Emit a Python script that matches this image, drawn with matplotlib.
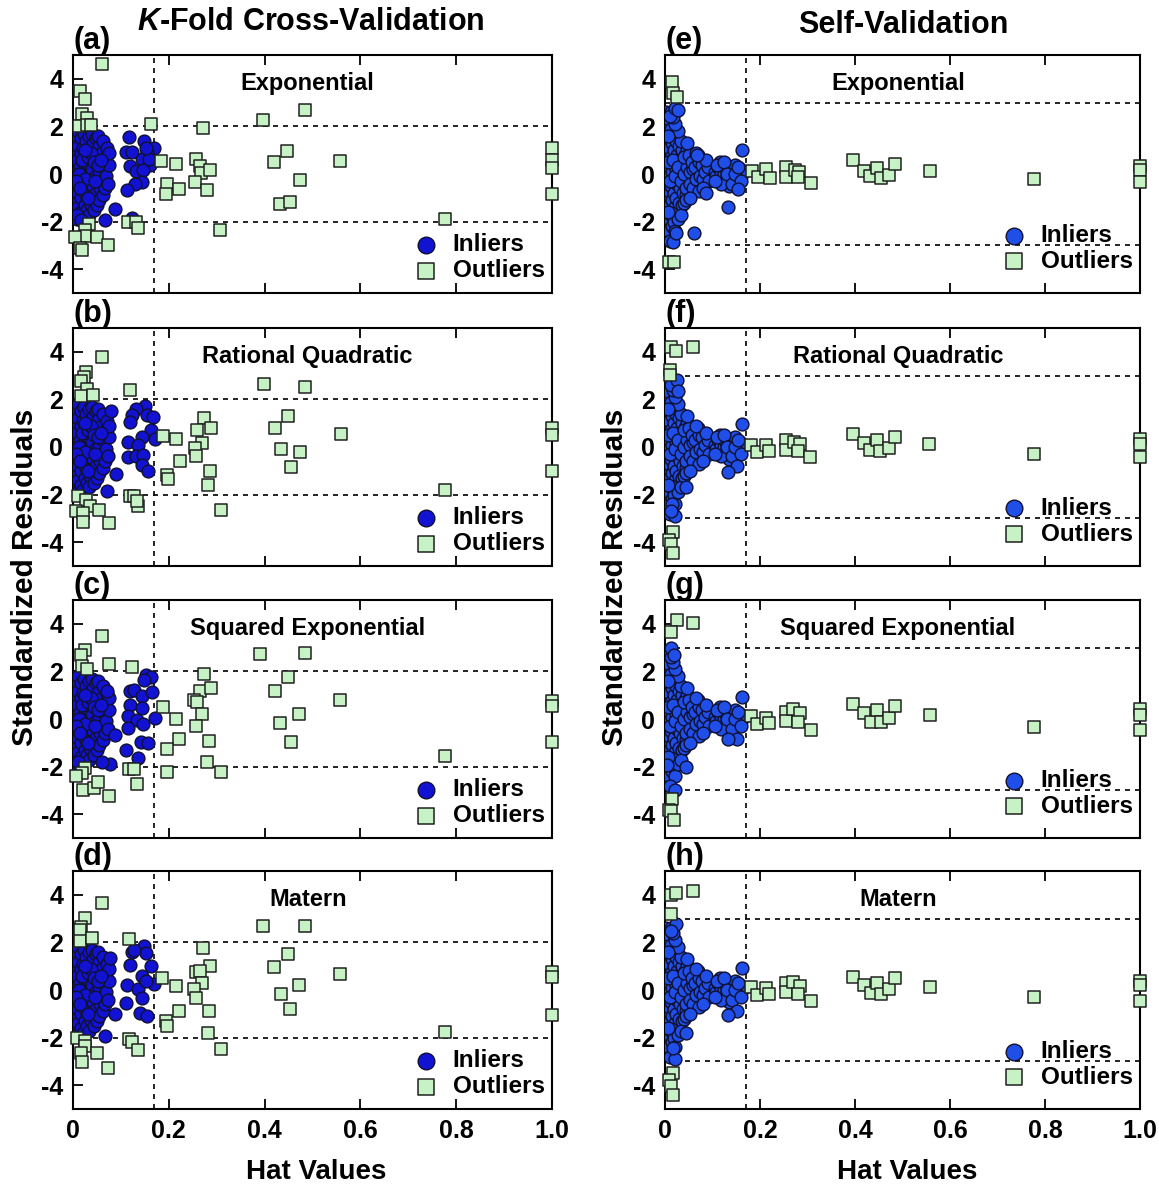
import matplotlib.pyplot as plt

# hat value / standardized residual pairs
# dense left cluster, shared look in the K-fold panels
KFOLD_CORE = [(0.004, 1.6), (0.006, 0.9), (0.005, 0.2), (0.004, -0.5), (0.006, -1.2), (0.005, -1.7),
              (0.010, 1.8), (0.011, 1.2), (0.009, 0.6), (0.012, -0.1), (0.010, -0.8), (0.011, -1.4), (0.009, -1.9),
              (0.016, 1.5), (0.017, 0.9), (0.015, 0.3), (0.018, -0.3), (0.016, -1.0), (0.017, -1.6),
              (0.022, 1.7), (0.021, 1.1), (0.023, 0.5), (0.020, -0.1), (0.022, -0.6), (0.024, -1.3), (0.021, -1.8),
              (0.028, 1.4), (0.027, 0.8), (0.029, 0.1), (0.030, -0.4), (0.027, -0.9), (0.029, -1.5),
              (0.034, 1.6), (0.035, 1.0), (0.033, 0.4), (0.036, -0.2), (0.034, -0.7), (0.036, -1.2), (0.033, -1.7),
              (0.041, 1.3), (0.040, 0.2), (0.042, -0.5), (0.041, -1.0), (0.043, -1.5), (0.039, 1.7),
              (0.047, 1.5), (0.048, 0.6), (0.049, -0.1), (0.047, -0.8), (0.050, -1.3),
              (0.055, 1.2), (0.054, 0.0), (0.056, -0.6), (0.055, -1.1), (0.053, 1.6),
              (0.061, 0.9), (0.062, 0.3), (0.060, -0.3), (0.063, -0.9), (0.062, 1.4),
              (0.068, 0.7), (0.069, -0.1), (0.067, -0.6), (0.070, 1.1),
              (0.075, 0.4), (0.074, -0.4), (0.076, 0.9),
              (0.013, 0.0), (0.019, 0.6), (0.025, -0.2), (0.031, 0.7), (0.038, 0.9), (0.044, 0.5),
              (0.052, 0.4), (0.058, 0.6), (0.007, -0.3), (0.014, -0.6), (0.026, 1.0), (0.032, -1.0), (0.045, -0.3)]

SELF_CORE = [(0.003, 2.6), (0.004, 2.0), (0.003, 1.4), (0.005, 0.8), (0.004, 0.2), (0.003, -0.4), (0.005, -1.0),
             (0.004, -1.6), (0.003, -2.2), (0.005, -2.7),
             (0.008, 2.3), (0.009, 1.7), (0.008, 1.1), (0.010, 0.5), (0.009, -0.1), (0.008, -0.7), (0.010, -1.3),
             (0.009, -1.9), (0.008, -2.4),
             (0.013, 1.9), (0.014, 1.3), (0.012, 0.7), (0.015, 0.1), (0.013, -0.5), (0.014, -1.1), (0.012, -1.7),
             (0.015, -2.2),
             (0.018, 1.6), (0.019, 1.0), (0.020, 0.4), (0.018, -0.2), (0.019, -0.8), (0.021, -1.4), (0.018, -2.0),
             (0.024, 1.4), (0.025, 0.8), (0.023, 0.2), (0.026, -0.4), (0.024, -1.0), (0.025, -1.6),
             (0.030, 1.2), (0.031, 0.6), (0.029, 0.0), (0.032, -0.6), (0.030, -1.2),
             (0.036, 1.0), (0.037, 0.4), (0.035, -0.2), (0.038, -0.8), (0.036, -1.3),
             (0.042, 0.8), (0.043, 0.2), (0.041, -0.4), (0.044, -0.9),
             (0.048, 0.6), (0.049, 0.0), (0.050, -0.6), (0.047, 1.0),
             (0.055, 0.4), (0.056, -0.2), (0.054, -0.8),
             (0.061, 0.6), (0.062, 0.0), (0.063, -0.5),
             (0.068, 0.3), (0.069, -0.3), (0.070, 0.8),
             (0.075, 0.1), (0.076, -0.5), (0.082, 0.2), (0.083, -0.3), (0.088, -0.1),
             (0.006, 0.5), (0.011, -0.3), (0.016, 0.6), (0.022, -0.1), (0.027, 0.3), (0.033, -0.3),
             (0.040, 0.0), (0.046, 0.3), (0.052, 0.1), (0.058, 0.2),
             (0.040, 0.7), (0.044, -0.6), (0.051, 0.8), (0.053, -0.4), (0.057, 0.5), (0.059, -0.6),
             (0.064, 0.3), (0.066, -0.2), (0.071, 0.5), (0.073, -0.1), (0.078, 0.4), (0.080, -0.2),
             (0.085, 0.1), (0.090, 0.3), (0.092, -0.3), (0.065, 0.9), (0.072, -0.7), (0.079, -0.6),
             (0.086, 0.6), (0.034, 1.4), (0.028, 1.8), (0.022, 2.1), (0.016, 2.4), (0.020, -2.4),
             (0.027, -1.9), (0.033, -1.7), (0.039, -1.2), (0.045, -1.1), (0.006, 1.6), (0.007, -1.6),
             (0.012, 2.6), (0.011, -2.8), (0.046, 1.3), (0.052, -1.0)]

SELF_MID = [(0.105, 0.1), (0.108, -0.1), (0.112, 0.3), (0.115, -0.2), (0.118, 0.1), (0.120, 0.4), (0.122, -0.3),
            (0.125, 0.0), (0.128, 0.2), (0.130, -0.1), (0.133, -0.3), (0.136, 0.3), (0.139, 0.0), (0.142, 0.2),
            (0.145, -0.2), (0.148, 0.4), (0.151, 0.1), (0.155, -0.1), (0.158, 0.2), (0.163, 0.0),
            (0.115, 0.5), (0.135, -0.5), (0.110, 0.4), (0.117, -0.4), (0.124, 0.5), (0.131, 0.0),
            (0.140, -0.4), (0.147, 0.0), (0.153, 0.3), (0.160, -0.3), (0.106, -0.3)]

# panel-specific inliers
A_IN = [(0.116, 1.55), (0.148, 1.37), (0.170, 1.09), (0.111, 0.91), (0.124, 0.91), (0.155, 0.91), (0.143, 0.63),
        (0.161, 0.39), (0.118, 0.36), (0.132, 0.15), (0.146, 0.18), (0.145, -0.35), (0.130, -0.41), (0.112, -0.69),
        (0.087, -1.47), (0.067, -1.92), (0.124, -1.85), (0.008, -1.71), (0.017, -1.92), (0.158, 0.62), (0.152, 1.1)]
B_IN = [(0.150, 1.73), (0.131, 1.59), (0.124, 1.34), (0.120, 1.06), (0.155, 1.34), (0.167, 1.24), (0.163, 0.72),
        (0.145, 0.44), (0.171, 0.33), (0.114, 0.19), (0.135, 0.09), (0.115, -0.41), (0.132, -0.37), (0.146, -0.34),
        (0.143, -0.75), (0.157, -1.03), (0.079, 1.52), (0.070, -1.86), (0.089, -1.12)]
C_IN = [(0.153, 1.86), (0.162, 1.76), (0.148, 1.65), (0.118, 1.19), (0.128, 1.23), (0.143, 0.99), (0.165, 1.12),
        (0.118, 0.60), (0.144, 0.48), (0.114, 0.13), (0.171, 0.06), (0.134, -0.06), (0.146, -0.22), (0.114, -0.39),
        (0.141, -0.95), (0.156, -1.02), (0.111, -1.30), (0.135, -1.62), (0.088, -0.69), (0.070, 1.19),
        (0.078, -1.90), (0.061, -1.79), (0.010, -1.82)]
D_IN = [(0.149, 1.86), (0.153, 1.54), (0.123, 1.58), (0.118, 1.06), (0.163, 1.03), (0.144, 0.61), (0.169, 0.25),
        (0.112, 0.22), (0.135, 0.06), (0.145, -0.33), (0.110, -0.54), (0.140, -0.97), (0.155, -1.08),
        (0.077, 1.33), (0.088, -1.00), (0.067, -1.92), (0.128, 1.7), (0.152, 0.4)]
E_IN = [(0.163, 1.01), (0.153, -0.63), (0.133, -1.37), (0.060, -2.49), (0.016, -2.84), (0.023, -2.48),
        (0.011, 2.45), (0.020, 2.76), (0.028, 2.70), (0.087, -0.81), (0.067, 0.80)]
F_IN = [(0.161, 0.98), (0.152, -0.80), (0.133, -1.07), (0.045, -1.69), (0.022, -2.88), (0.014, -2.39),
        (0.013, -2.67), (0.025, 2.81), (0.028, 2.35)]
G_IN = [(0.162, 0.91), (0.152, -0.84), (0.132, -0.84), (0.045, -2.02), (0.022, -2.97), (0.012, 3.0),
        (0.005, -1.95), (0.018, 2.7)]
H_IN = [(0.162, 0.92), (0.152, -0.86), (0.132, -1.05), (0.045, -1.81), (0.022, -2.90), (0.023, 2.79),
        (0.016, -2.44), (0.012, 2.5)]

# outliers
A_OUT = [(0.060, 4.63), (0.015, 3.51), (0.025, 3.16), (0.019, 2.52), (0.029, 2.35), (0.012, 2.03), (0.029, 2.07),
         (0.037, 2.07), (0.163, 2.11), (0.272, 1.92), (0.397, 2.28), (0.485, 2.70), (0.183, 0.56), (0.214, 0.42),
         (0.257, 0.64), (0.266, 0.36), (0.267, 0.04), (0.286, 0.17), (0.255, -0.34), (0.197, -0.43), (0.195, -0.84),
         (0.221, -0.62), (0.280, -0.69), (0.419, 0.49), (0.447, 0.99), (0.473, -0.24), (0.433, -1.27),
         (0.454, -1.16), (0.557, 0.55), (0.776, -1.87), (1.0, 1.10), (1.0, 0.60), (1.0, 0.25), (1.0, -0.84),
         (0.307, -2.34), (0.115, -2.03), (0.132, -2.00), (0.135, -2.27), (0.033, -2.08), (0.025, -2.34),
         (0.025, -2.62), (0.005, -2.64), (0.051, -2.64), (0.074, -2.99), (0.015, -3.10), (0.019, -3.20)]
B_OUT = [(0.061, 3.77), (0.028, 3.14), (0.022, 2.93), (0.017, 2.79), (0.029, 2.43), (0.017, 2.15), (0.041, 2.20),
         (0.118, 2.38), (0.399, 2.66), (0.485, 2.51), (0.274, 1.21), (0.258, 0.72), (0.288, 0.79), (0.270, 0.16),
         (0.187, 0.46), (0.214, 0.33), (0.254, -0.06), (0.257, -0.37), (0.223, -0.61), (0.196, -1.17),
         (0.198, -1.35), (0.285, -1.00), (0.282, -1.61), (0.309, -2.65), (0.422, 0.78), (0.449, 1.31),
         (0.560, 0.54), (0.434, -0.09), (0.473, -0.19), (0.455, -0.86), (0.776, -1.82), (1.0, 0.79), (1.0, 0.51),
         (1.0, -1.00), (0.010, -2.08), (0.028, -2.24), (0.036, -2.50), (0.007, -2.69), (0.020, -2.76),
         (0.021, -3.14), (0.054, -2.66), (0.076, -3.21), (0.119, -2.08), (0.127, -2.08), (0.136, -2.50),
         (0.134, -2.27)]
C_OUT = [(0.061, 3.47), (0.026, 2.91), (0.017, 2.70), (0.019, 2.24), (0.029, 2.11), (0.075, 2.31), (0.123, 2.17),
         (0.391, 2.74), (0.485, 2.77), (0.273, 1.90), (0.448, 1.76), (0.265, 1.19), (0.288, 1.30), (0.253, 0.81),
         (0.258, 0.70), (0.421, 1.19), (0.558, 0.81), (0.187, 0.51), (0.214, -0.01), (0.270, 0.20), (0.256, -0.30),
         (0.471, 0.22), (0.433, -0.18), (0.221, -0.84), (0.284, -0.91), (0.455, -0.95), (0.196, -1.27),
         (0.280, -1.79), (0.196, -2.22), (0.308, -2.22), (0.776, -1.55), (1.0, 0.76), (1.0, 0.55), (1.0, -0.95),
         (0.026, -2.07), (0.018, -2.28), (0.021, -2.98), (0.043, -2.91), (0.052, -2.66), (0.076, -3.22),
         (0.116, -2.09), (0.127, -2.09), (0.134, -2.74), (0.007, -2.4)]
D_OUT = [(0.060, 3.67), (0.025, 3.03), (0.016, 2.65), (0.014, 2.51), (0.014, 2.07), (0.040, 2.17), (0.116, 2.14),
         (0.397, 2.69), (0.484, 2.69), (0.272, 1.78), (0.448, 1.51), (0.285, 1.00), (0.257, 0.75), (0.265, 0.80),
         (0.420, 0.99), (0.558, 0.68), (0.185, 0.50), (0.214, 0.15), (0.270, 0.29), (0.253, 0.04), (0.256, -0.33),
         (0.434, -0.17), (0.471, 0.22), (0.454, -0.78), (0.222, -0.86), (0.284, -0.89), (0.195, -1.31),
         (0.197, -1.49), (0.281, -1.79), (0.309, -2.49), (0.777, -1.75), (1.0, 0.75), (1.0, 0.56), (1.0, -1.03),
         (0.008, -2.03), (0.025, -2.14), (0.024, -2.35), (0.016, -2.63), (0.019, -3.04), (0.051, -2.63),
         (0.074, -3.28), (0.116, -2.06), (0.124, -2.17), (0.135, -2.50)]
E_OUT = [(0.014, 3.89), (0.016, 3.40), (0.026, 3.22), (0.009, -3.71), (0.019, -3.71), (0.184, 0.13), (0.195, -0.14),
         (0.213, 0.21), (0.220, -0.15), (0.255, 0.31), (0.254, -0.14), (0.273, 0.18), (0.283, 0.10), (0.281, -0.14),
         (0.307, -0.39), (0.396, 0.60), (0.419, 0.13), (0.432, -0.07), (0.447, 0.24), (0.454, -0.17),
         (0.472, -0.04), (0.484, 0.41), (0.558, 0.11), (0.776, -0.22), (1.0, 0.35), (1.0, 0.18), (1.0, -0.35)]
F_OUT = [(0.013, 4.19), (0.023, 4.02), (0.058, 4.21), (0.011, 3.25), (0.011, 3.04), (0.016, -3.56), (0.008, -3.92),
         (0.013, -4.09), (0.017, -4.44), (0.182, 0.09), (0.194, -0.20), (0.213, 0.09), (0.219, -0.17),
         (0.255, 0.29), (0.255, -0.13), (0.271, 0.23), (0.284, 0.12), (0.280, -0.16), (0.305, -0.44),
         (0.396, 0.54), (0.419, 0.15), (0.432, -0.13), (0.447, 0.29), (0.453, -0.17), (0.472, -0.05),
         (0.484, 0.42), (0.556, 0.12), (0.777, -0.30), (1.0, 0.33), (1.0, 0.12), (1.0, -0.44)]
G_OUT = [(0.025, 4.17), (0.058, 4.03), (0.013, 3.67), (0.015, -3.38), (0.008, -3.84), (0.012, -3.86), (0.018, -4.23),
         (0.182, 0.14), (0.194, -0.21), (0.213, 0.04), (0.219, -0.17), (0.255, 0.28), (0.255, -0.07), (0.270, 0.42),
         (0.284, 0.24), (0.280, -0.14), (0.307, -0.46), (0.396, 0.63), (0.419, 0.24), (0.433, -0.14),
         (0.447, 0.38), (0.454, -0.14), (0.471, 0.04), (0.484, 0.56), (0.558, 0.17), (0.777, -0.32), (1.0, 0.42),
         (1.0, 0.18), (1.0, -0.46)]
H_OUT = [(0.012, 3.99), (0.023, 4.07), (0.058, 4.18), (0.012, 3.18), (0.016, -3.49), (0.008, -3.79), (0.013, -4.04),
         (0.017, -4.39), (0.182, 0.14), (0.194, -0.22), (0.213, 0.07), (0.219, -0.17), (0.255, 0.28), (0.255, -0.07),
         (0.270, 0.35), (0.284, 0.17), (0.280, -0.17), (0.307, -0.45), (0.396, 0.56), (0.419, 0.21), (0.433, -0.14),
         (0.447, 0.31), (0.454, -0.17), (0.471, 0.03), (0.484, 0.49), (0.558, 0.14), (0.777, -0.31), (1.0, 0.39),
         (1.0, 0.21), (1.0, -0.45)]

KERNELS = ['Exponential', 'Rational Quadratic', 'Squared Exponential', 'Matern']
HAT_CUT = 0.17

plt.rcParams['font.family'] = 'Liberation Sans'
plt.rcParams['font.weight'] = 'bold'
plt.rcParams['axes.unicode_minus'] = False
plt.rcParams['mathtext.fontset'] = 'custom'
plt.rcParams['mathtext.it'] = 'Liberation Sans:italic:bold'
plt.rcParams['mathtext.rm'] = 'Liberation Sans:bold'

fig = plt.figure(figsize=(11.59, 11.85), dpi=100)

bottoms = [0.7527, 0.5224, 0.2928, 0.0641]
height = 0.2008


def panel(ax, inliers, outliers, resid_cut, letter, name, blue, leg_y, last):
    ih = [p[0] for p in inliers]
    ir = [p[1] for p in inliers]
    oh = [p[0] for p in outliers]
    orr = [p[1] for p in outliers]
    ax.axhline(resid_cut, color='black', ls=(0, (3, 3)), lw=1.2, zorder=1)
    ax.axhline(-resid_cut, color='black', ls=(0, (3, 3)), lw=1.2, zorder=1)
    ax.axvline(HAT_CUT, color='black', ls=(0, (3, 3)), lw=1.2, zorder=1)
    ax.scatter(ih, ir, s=85, marker='o', facecolor=blue, edgecolor='#101030', lw=1.0,
               zorder=3, label='Inliers')
    ax.scatter(oh, orr, s=70, marker='s', facecolor='#c6f2c6', edgecolor='#202020', lw=1.1,
               zorder=4, label='Outliers', clip_on=False)
    ax.set_xlim(0, 1.0)
    ax.set_ylim(-5, 5)
    ax.set_xticks([0, 0.2, 0.4, 0.6, 0.8, 1.0])
    ax.set_yticks([-4, -2, 0, 2, 4])
    ax.set_yticklabels(['-4', '-2', '0', '2', '4'])
    if last:
        ax.set_xticklabels(['0', '0.2', '0.4', '0.6', '0.8', '1.0'])
    else:
        ax.set_xticklabels([])
    ax.tick_params(direction='in', length=7, width=1.3, top=True, labelsize=18, pad=7)
    for sp in ax.spines.values():
        sp.set_linewidth(1.5)
    ax.text(0.0, 0.995, letter, transform=ax.transAxes, ha='left', va='bottom', fontsize=22)
    ax.text(0.49, 0.88, name, transform=ax.transAxes, ha='center', va='center', fontsize=17)
    ax.legend(loc='lower right', bbox_to_anchor=(0.985, leg_y), frameon=False, fontsize=17.5,
              markerscale=1.3, handlelength=1.0, handletextpad=0.6, labelspacing=0.12,
              borderpad=0, borderaxespad=0)


left_in = [A_IN, B_IN, C_IN, D_IN]
left_out = [A_OUT, B_OUT, C_OUT, D_OUT]
right_in = [E_IN, F_IN, G_IN, H_IN]
right_out = [E_OUT, F_OUT, G_OUT, H_OUT]

for i in range(4):
    ax = fig.add_axes([0.063, bottoms[i], 0.4133, height])
    panel(ax, KFOLD_CORE + left_in[i], left_out[i], 2, '(' + 'abcd'[i] + ')', KERNELS[i],
          '#1212d2', 0.045, i == 3)
    ax = fig.add_axes([0.5738, bottoms[i], 0.4098, height])
    panel(ax, SELF_CORE + SELF_MID + right_in[i], right_out[i], 3, '(' + 'efgh'[i] + ')', KERNELS[i],
          '#1f4fe8', 0.085, i == 3)

fig.text(311 / 1159, 1 - 22 / 1185, r'$K$-Fold Cross-Validation', ha='center', va='center', fontsize=22)
fig.text(903 / 1159, 1 - 25 / 1185, 'Self-Validation', ha='center', va='center', fontsize=22)
fig.text(25 / 1159, 1 - 577 / 1185, 'Standardized Residuals', ha='center', va='center',
         rotation=90, fontsize=21.5)
fig.text(615 / 1159, 1 - 577 / 1185, 'Standardized Residuals', ha='center', va='center',
         rotation=90, fontsize=21.5)
fig.text(316 / 1159, 1 - 1172 / 1185, 'Hat Values', ha='center', va='center', fontsize=20)
fig.text(907 / 1159, 1 - 1172 / 1185, 'Hat Values', ha='center', va='center', fontsize=20)

fig.savefig('out.png', dpi=100)
